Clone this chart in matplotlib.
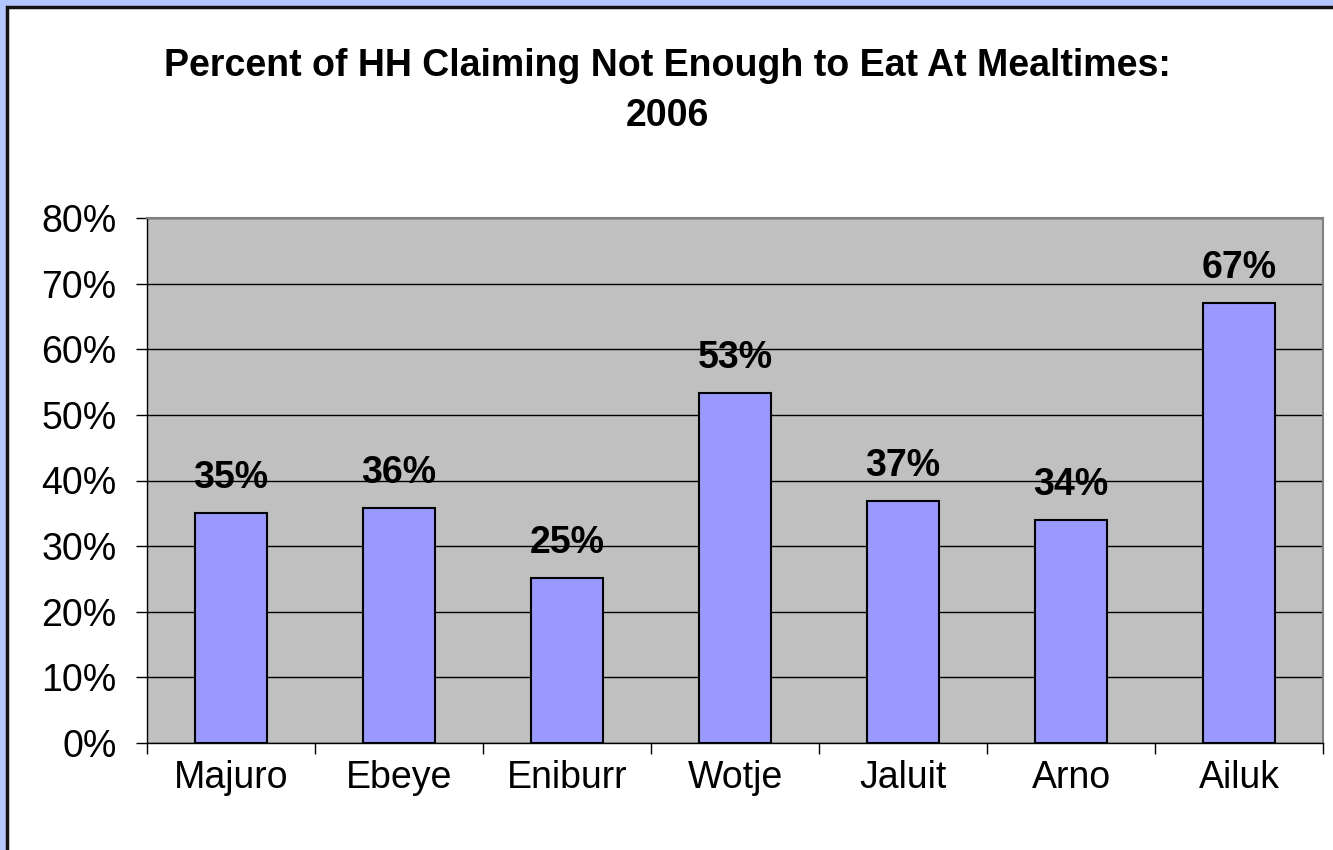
import matplotlib

matplotlib.use("Agg")
import matplotlib.pyplot as plt
from matplotlib.patches import Rectangle
import numpy as np

plt.rcParams["font.family"] = ["Liberation Sans", "DejaVu Sans"]

sites = ["Majuro", "Ebeye", "Eniburr", "Wotje", "Jaluit", "Arno", "Ailuk"]
pct = [35.0, 35.8, 25.1, 53.4, 36.9, 34.0, 67.0]
labels = ["35%", "36%", "25%", "53%", "37%", "34%", "67%"]
yticks = [0, 10, 20, 30, 40, 50, 60, 70, 80]

W, H = 1333, 850
fig = plt.figure(figsize=(W / 100, H / 100), dpi=100)
fig.patch.set_facecolor("#B4C6FF")
# white chart box with dark frame, cut off at right/bottom like the source
fig.add_artist(Rectangle((7 / W, -0.1), 1.2, 1 - 7 / H + 0.1, transform=fig.transFigure,
                         facecolor="white", edgecolor="#111111", linewidth=2.5, zorder=-5))

ax = fig.add_axes([147 / W, 1 - 743 / H, (1323 - 147) / W, (743 - 218) / H])
ax.set_facecolor("#C0C0C0")
x = np.arange(len(sites))
ax.bar(x, pct, width=0.43, color="#9999FF", edgecolor="black", linewidth=1.5, zorder=3)
for xi, v, lab in zip(x, pct, labels):
    ax.text(xi, v + 2.6, lab, ha="center", va="bottom", fontsize=27, fontweight="bold", zorder=4)

ax.set_xlim(-0.5, len(sites) - 0.5)
ax.set_ylim(0, 80)
ax.set_yticks(yticks, [f"{t}%" for t in yticks], fontsize=27)
ax.set_xticks(x, sites, fontsize=27)
ax.set_xticks(np.arange(len(sites) + 1) - 0.5, minor=True)
ax.tick_params(axis="x", which="major", length=0, pad=12)
ax.tick_params(axis="x", which="minor", length=8, width=1, direction="out")
ax.tick_params(axis="y", length=8, width=1, direction="out", pad=14)
ax.yaxis.grid(True, color="black", linewidth=1, zorder=1)
ax.set_axisbelow(True)
for side in ("top", "right"):
    ax.spines[side].set_color("#808080")
    ax.spines[side].set_linewidth(1.5)
for side in ("left", "bottom"):
    ax.spines[side].set_color("black")
    ax.spines[side].set_linewidth(1)

fig.text(667 / W, 1 - 91 / H, "Percent of HH Claiming Not Enough to Eat At Mealtimes:\n2006",
         ha="center", va="center", fontsize=27, fontweight="bold", linespacing=1.5)

fig.savefig("out.png", dpi=100, facecolor=fig.get_facecolor())
